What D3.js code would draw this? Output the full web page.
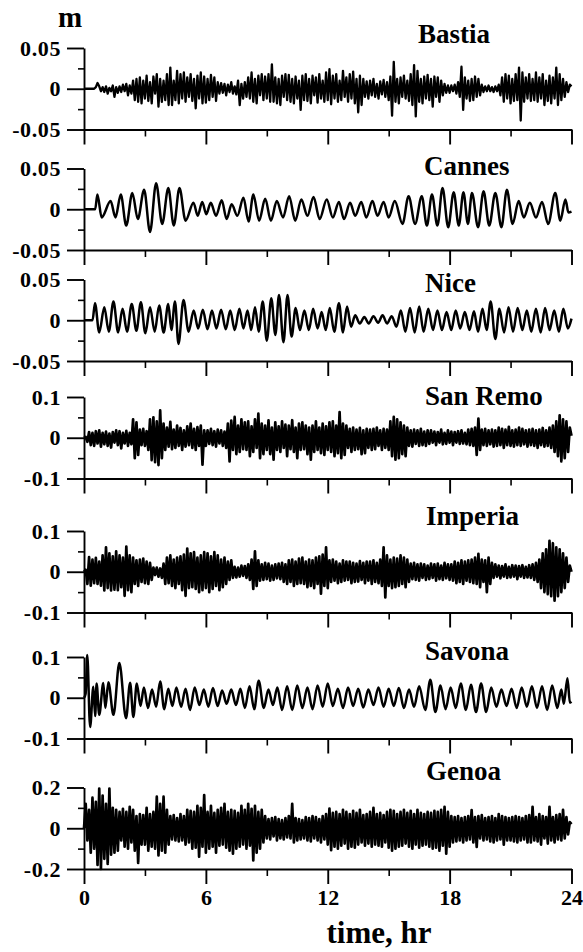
<!DOCTYPE html>
<html>
<head>
<meta charset="utf-8">
<script src="https://cdn.jsdelivr.net/npm/d3@7"></script>
<style>
  body { margin: 0; background: #fff; }
  svg { display: block; }
</style>
</head>
<body>
<svg id="chart" width="583" height="952"></svg>
<script>
// ---- stations and axis settings ----
const stations = ["Bastia", "Cannes", "Nice", "San Remo", "Imperia", "Savona", "Genoa"];
const yLimits = [0.05, 0.05, 0.05, 0.1, 0.1, 0.1, 0.2];
const yTickLabels = [
  ["0.05", "0", "-0.05"], ["0.05", "0", "-0.05"], ["0.05", "0", "-0.05"],
  ["0.1", "0", "-0.1"], ["0.1", "0", "-0.1"], ["0.1", "0", "-0.1"],
  ["0.2", "0", "-0.2"]
];
const timeTicks = [0, 6, 12, 18, 24];
const timeTickLabels = ["0", "6", "12", "18", "24"];
const timeMinorTicks = [3, 9, 15, 21];

// ---- sea level records, mm ----
// Bastia, San Remo, Imperia, Genoa: samples every 5 minutes from 0 to 24 hr
const bastia = [
  0,0,0,0,0,0,0,2,7,3,-3,2,
  -4,3,-6,1,-3,4,-10,2,-5,3,-4,5,
  -3,6,-8,4,-6,10,-14,12,-16,14,-18,10,
  -12,16,-15,8,-18,15,-6,18,-22,12,-16,10,
  -14,18,-20,26,-20,10,-14,22,-18,18,-12,20,
  -16,14,-10,18,-15,12,-24,16,-12,20,-18,15,
  -17,12,-14,17,-10,14,-15,8,-6,7,-5,6,
  -8,5,-4,8,-6,3,-7,10,-20,6,-12,8,
  -10,14,-12,20,-16,12,-18,16,-8,18,-14,15,
  -12,18,-16,30,-16,14,-18,12,-20,16,-10,18,
  -14,17,-16,12,-18,15,-12,10,-26,16,-14,18,
  -15,12,-18,16,-8,14,-17,18,-12,10,-16,20,
  -14,24,-19,16,-12,18,-16,10,-14,22,-10,14,
  -16,18,-12,21,-18,12,-29,16,-20,12,-10,9,
  -12,10,-8,12,-10,6,-12,9,-7,11,-10,8,
  -14,15,-33,33,-16,12,-18,14,-10,16,-12,10,
  -15,18,-20,29,-34,22,-16,12,-18,15,-12,17,
  -14,12,-22,15,-10,14,-16,10,-8,6,-5,4,
  -5,4,-3,5,-6,8,-10,27,-26,14,-12,10,
  -15,12,-14,15,-10,12,-8,5,-4,3,-3,4,
  -3,2,-4,3,-3,5,-8,14,-16,18,-12,16,
  -18,12,-15,18,-14,26,-39,20,-16,14,-12,18,
  -15,12,-14,20,-16,14,-12,18,-20,10,-15,16,
  -18,14,-12,26,-20,18,-14,12,-10,8,-4,5,
  3
];
const sanRemo = [
  0,2,-10,14,-18,12,-20,16,-14,18,-22,12,
  -16,15,-20,10,-24,14,-12,18,-18,16,-26,12,
  -14,17,-20,12,-16,45,-50,38,-42,20,-18,22,
  -20,16,-30,45,-55,50,-60,40,-67,67,-50,35,
  -30,25,-22,39,-28,20,-25,30,-20,24,-30,18,
  -22,28,-18,35,-25,22,-30,26,-20,30,-66,18,
  -20,18,-15,22,-18,16,-22,20,-14,18,-20,15,
  -25,35,-58,42,-30,51,-40,30,-35,45,-28,38,
  -30,40,-45,28,-35,45,-25,59,-50,35,-40,30,
  -30,43,-40,25,-54,38,-30,28,-35,40,-25,32,
  -45,30,-28,43,-35,25,-50,35,-30,38,-28,30,
  -40,25,-54,30,-35,40,-30,25,-38,35,-42,28,
  -30,38,-35,40,-45,30,-38,63,-50,35,-42,30,
  -25,22,-35,25,-30,20,-28,24,-40,18,-38,22,
  -25,20,-30,22,-28,25,-20,18,-30,22,-25,20,
  -30,40,-45,51,-54,45,-50,38,-40,30,-45,25,
  -20,18,-22,20,-15,18,-20,22,-18,15,-20,18,
  -15,18,-12,15,-18,14,-12,20,-16,12,-15,18,
  -12,15,-18,14,-12,16,-15,18,-14,12,-16,20,
  -18,22,-20,25,-42,47,-30,20,-18,22,-20,18,
  -16,20,-22,18,-20,25,-18,22,-25,20,-18,27,
  -20,18,-22,20,-18,25,-20,22,-16,18,-22,20,
  -18,22,-20,18,-25,20,-18,24,-22,18,-20,25,
  -25,30,-35,40,-45,55,-58,45,-50,40,-35,25,
  5
];
const imperia = [
  0,5,-30,36,-34,30,-28,34,-30,25,-34,40,
  -46,60,-40,45,-46,38,-44,50,-45,40,-38,35,
  -59,62,-45,40,-50,35,-30,28,-35,30,-25,32,
  -28,25,-30,22,-20,10,-8,10,-12,8,-15,20,
  -30,35,-28,40,-35,30,-40,35,-30,38,-45,42,
  -59,57,-40,45,-38,48,-42,35,-50,40,-45,48,
  -40,45,-50,38,-42,48,-35,40,-45,30,-38,35,
  -30,25,-20,28,-15,12,-14,10,-12,15,-10,14,
  -15,18,-20,30,-42,50,-35,28,-22,18,-20,22,
  -18,20,-22,15,-20,18,-16,20,-18,22,-25,18,
  -30,28,-25,30,-35,25,-30,32,-28,35,-30,25,
  -38,30,-35,28,-40,35,-30,38,-54,42,-35,60,
  -40,28,-25,30,-22,25,-28,20,-25,28,-22,25,
  -20,25,-28,22,-25,20,-24,26,-20,22,-28,25,
  -22,25,-30,28,-25,22,-28,30,-35,60,-63,40,
  -35,30,-40,35,-38,32,-35,40,-30,35,-38,30,
  -25,20,-18,22,-20,18,-22,20,-15,18,-20,15,
  -18,20,-15,18,-22,20,-18,15,-20,22,-16,18,
  -20,18,-22,25,-28,22,-25,28,-30,25,-22,28,
  -25,30,-28,35,-30,44,-38,30,-25,28,-50,35,
  -30,22,-15,18,-12,15,-16,14,-12,18,-15,12,
  -14,16,-12,15,-18,14,-12,16,-15,12,-14,16,
  -15,18,-20,22,-25,30,-40,45,-50,55,-55,76,
  -60,70,-71,60,-60,55,-50,45,-40,35,-25,15,
  0
];
const genoa = [
  0,120,-60,90,-120,150,-100,130,-180,195,-200,160,
  -150,120,-175,195,-130,100,-120,90,-110,80,-60,95,
  -90,80,-100,105,-70,90,-110,60,-170,70,-80,65,
  -80,100,-110,70,-90,80,-100,155,-133,120,-110,155,
  -120,90,-80,60,-55,65,-60,50,-65,70,-60,60,
  -80,90,-70,85,-100,80,-95,110,-140,100,-90,163,
  -120,80,-100,110,-90,75,-120,90,-85,100,-80,120,
  -95,80,-110,90,-125,85,-100,75,-90,110,-80,90,
  -100,120,-85,95,-158,110,-120,80,-100,90,-70,60,
  -50,45,-55,50,-40,55,-60,45,-50,40,-55,50,
  -45,60,-50,120,-70,50,-60,45,-55,40,-50,55,
  -60,50,-65,60,-50,55,-60,45,-70,60,-55,70,
  -80,97,-108,75,-90,80,-100,70,-85,90,-75,80,
  -100,70,-90,85,-95,75,-80,90,-70,65,-85,70,
  -75,80,-90,100,-80,70,-85,75,-90,65,-70,80,
  -95,90,-110,85,-100,70,-90,80,-85,90,-75,75,
  -90,85,-100,70,-80,90,-95,75,-85,70,-80,80,
  -90,75,-100,85,-95,80,-110,90,-85,105,-125,80,
  -90,60,-70,55,-65,60,-60,50,-70,55,-60,60,
  -55,89,-70,55,-92,60,-50,65,-60,50,-55,55,
  -65,60,-70,50,-60,70,-55,60,-80,55,-60,50,
  -60,55,-65,60,-70,55,-60,50,-55,60,-70,65,
  -70,105,-60,55,-65,70,-80,60,-50,55,-75,105,
  -60,55,-70,65,-55,70,-60,90,-50,55,-30,30,
  20
];

// Cannes, Nice, Savona: turning points [hr, mm] of the smoother records
const cannes = [
  [0,0],[0.55,0],[0.66,18],[0.87,-10],[1.31,10],[1.55,-10],[1.81,18],[2.08,-20],
  [2.38,20],[2.65,-12],[2.96,24],[3.25,-28],[3.55,32],[3.85,-18],[4.15,26],[4.42,-20],
  [4.70,26],[5.00,-14],[5.39,8],[5.60,-8],[5.82,9],[6.02,-6],[6.24,8],[6.50,-8],
  [6.78,11],[7.02,-12],[7.27,6],[7.55,-8],[7.85,14],[8.10,-15],[8.34,18],[8.62,-14],
  [8.92,13],[9.20,-14],[9.49,10],[9.80,-10],[10.10,16],[10.40,-14],[10.70,12],[11.00,-8],
  [11.30,15],[11.60,-12],[11.95,12],[12.25,-10],[12.55,9],[12.80,-12],[13.10,8],[13.35,-8],
  [13.65,9],[13.90,-10],[14.20,10],[14.45,-8],[14.75,9],[15.00,-10],[15.30,10],[15.68,-18],
  [15.98,16],[16.30,-18],[16.63,16],[16.88,-20],[17.13,18],[17.40,-20],[17.65,26],[17.93,-22],
  [18.20,21],[18.45,-20],[18.68,21],[18.90,-18],[19.10,20],[19.40,-22],[19.67,22],[19.95,-20],
  [20.25,20],[20.55,-22],[20.82,24],[21.10,-18],[21.40,10],[21.65,-10],[21.95,8],[22.25,-10],
  [22.55,9],[22.85,-18],[23.20,20],[23.45,-14],[23.70,12],[23.85,-4],[24,-3]
];
const nice = [
  [0,0],[0.42,0],[0.54,21],[0.75,-15],[1.0,16],[1.22,-14],[1.45,23],[1.68,-15],
  [1.9,14],[2.12,-14],[2.35,20],[2.58,-13],[2.8,22],[3.02,-16],[3.25,16],[3.48,-14],
  [3.7,18],[3.92,-15],[4.15,20],[4.3,-12],[4.48,23],[4.65,-29],[4.9,25],[5.15,-14],
  [5.4,12],[5.62,-10],[5.85,13],[6.08,-11],[6.3,12],[6.52,-10],[6.75,13],[6.98,-11],
  [7.2,12],[7.42,-12],[7.65,14],[7.85,-10],[8.05,12],[8.23,-12],[8.42,16],[8.6,-14],
  [8.8,23],[9.0,-25],[9.22,27],[9.42,-18],[9.6,31],[9.82,-27],[10.02,31],[10.22,-20],
  [10.42,15],[10.63,-12],[10.85,12],[11.07,-12],[11.28,14],[11.5,-10],[11.7,10],[11.9,-12],
  [12.1,15],[12.32,-14],[12.55,21],[12.75,-15],[12.95,17],[13.15,-8],[13.35,6],[13.58,-4],
  [13.8,4],[14.02,-4],[14.25,5],[14.48,-3],[14.7,6],[14.92,-4],[15.15,5],[15.38,-8],
  [15.6,12],[15.82,-14],[16.05,15],[16.28,-15],[16.5,17],[16.72,-14],[16.95,14],[17.18,-12],
  [17.4,12],[17.62,-12],[17.85,10],[18.08,-12],[18.3,12],[18.52,-10],[18.75,10],[18.98,-12],
  [19.2,11],[19.4,-14],[19.62,14],[19.82,-12],[20.02,23],[20.25,-23],[20.45,14],[20.68,-15],
  [20.9,16],[21.12,-14],[21.35,15],[21.58,-12],[21.8,12],[22.02,-14],[22.25,14],[22.48,-15],
  [22.7,15],[22.92,-12],[23.15,12],[23.38,-14],[23.6,14],[23.82,-10],[24,2]
];
const savona = [
  [0,0],[0.08,10],[0.16,105],[0.3,-72],[0.46,27],[0.55,-45],[0.62,35],[0.75,-42],
  [0.95,36],[1.05,-25],[1.2,38],[1.45,-42],[1.74,85],[2.07,-50],[2.27,37],[2.43,-47],
  [2.6,35],[2.78,-20],[2.95,25],[3.15,-25],[3.35,20],[3.55,-22],[3.75,40],[3.95,-28],
  [4.15,22],[4.35,-20],[4.55,25],[4.78,-22],[5.0,22],[5.22,-30],[5.45,25],[5.68,-18],
  [5.9,20],[6.12,-22],[6.35,24],[6.58,-20],[6.8,18],[7.02,-15],[7.25,20],[7.48,-18],
  [7.7,22],[7.92,-25],[8.15,28],[8.38,-28],[8.6,42],[8.85,-25],[9.08,20],[9.3,-18],
  [9.52,25],[9.75,-30],[10.0,28],[10.25,-30],[10.5,30],[10.75,-25],[11.0,25],[11.25,-28],
  [11.5,30],[11.75,-22],[12.0,35],[12.25,-20],[12.5,22],[12.75,-25],[13.0,25],[13.25,-20],
  [13.5,22],[13.75,-24],[14.0,20],[14.25,-18],[14.5,25],[14.75,-22],[15.0,22],[15.25,-20],
  [15.5,24],[15.75,-25],[16.0,20],[16.25,-22],[16.5,28],[16.8,-30],[17.05,44],[17.3,-35],
  [17.55,30],[17.8,-28],[18.05,25],[18.3,-25],[18.55,35],[18.8,-30],[19.05,32],[19.3,-35],
  [19.55,35],[19.8,-35],[20.05,25],[20.3,-22],[20.55,20],[20.8,-20],[21.05,22],[21.3,-25],
  [21.55,25],[21.8,-22],[22.05,28],[22.3,-25],[22.55,28],[22.8,-30],[23.05,30],[23.3,-25],
  [23.5,20],[23.62,-15],[23.8,48],[23.92,-12],[24,-10]
];

// ---- build [hours, metres] point lists ----
function sampled(values) {
  const step = 24 / (values.length - 1);
  return values.map((v, i) => [i * step, v / 1000]);
}
function turning(points) {
  return points.map(p => [p[0], p[1] / 1000]);
}
const records = [
  { pts: sampled(bastia), curve: d3.curveLinear, width: 2.3 },
  { pts: turning(cannes), curve: d3.curveMonotoneX, width: 2.5 },
  { pts: turning(nice), curve: d3.curveMonotoneX, width: 2.5 },
  { pts: sampled(sanRemo), curve: d3.curveLinear, width: 2.7 },
  { pts: sampled(imperia), curve: d3.curveLinear, width: 2.7 },
  { pts: turning(savona), curve: d3.curveMonotoneX, width: 2.5 },
  { pts: sampled(genoa), curve: d3.curveLinear, width: 2.7 }
];

// ---- layout ----
const FONT = "'Liberation Serif', 'Times New Roman', Times, serif";
const svg = d3.select("#chart");
const x = d3.scaleLinear().domain([0, 24]).range([84, 571.5]);
const panelTop = [48, 168.5, 279.5, 397, 531, 657, 787.5];
const panelH = 81.5;
const labelX = [418, 424, 425, 425, 426, 425, 426];
const labelY = [43, 175, 292, 405, 525, 660, 780];

function styleAxis(g, width) {
  g.selectAll("path.domain").attr("stroke", "#000").attr("stroke-width", width);
  g.selectAll(".tick line").attr("stroke", "#000").attr("stroke-width", width);
  g.attr("font-family", FONT).attr("font-size", 22).attr("font-weight", "bold");
  g.selectAll("text").attr("fill", "#000");
}

stations.forEach((name, k) => {
  const lim = yLimits[k];
  const y = d3.scaleLinear().domain([-lim, lim]).range([panelTop[k] + panelH, panelTop[k]]);
  const g = svg.append("g").attr("class", "panel");
  const last = k === stations.length - 1;

  // time axis (bottom)
  const xMajor = d3.axisBottom(x).tickValues(timeTicks).tickSize(15).tickSizeOuter(0)
    .tickPadding(5)
    .tickFormat((d, i) => last ? timeTickLabels[i] : "");
  const gx = g.append("g").attr("transform", `translate(0,${y(-lim)})`).call(xMajor);
  styleAxis(gx, 1.9);
  const xMinor = d3.axisBottom(x).tickValues(timeMinorTicks).tickSize(7).tickSizeOuter(0).tickFormat("");
  const gxm = g.append("g").attr("transform", `translate(0,${y(-lim)})`).call(xMinor);
  gxm.select("path.domain").remove();
  styleAxis(gxm, 1.6);

  // level axis (left)
  const yMajor = d3.axisLeft(y).tickValues([lim, 0, -lim]).tickSize(17).tickSizeOuter(0)
    .tickPadding(6)
    .tickFormat((d, i) => yTickLabels[k][i]);
  const gy = g.append("g").attr("transform", `translate(${x(0)},0)`).call(yMajor);
  styleAxis(gy, 1.9);
  gy.selectAll("text").attr("letter-spacing", 0.6);
  const yMinor = d3.axisLeft(y).tickValues([lim / 2, -lim / 2]).tickSize(6).tickSizeOuter(0).tickFormat("");
  const gym = g.append("g").attr("transform", `translate(${x(0)},0)`).call(yMinor);
  gym.select("path.domain").remove();
  styleAxis(gym, 1.6);

  // record
  const line = d3.line().x(d => x(d[0])).y(d => y(d[1])).curve(records[k].curve);
  g.append("path").datum(records[k].pts)
    .attr("d", line)
    .attr("fill", "none")
    .attr("stroke", "#000")
    .attr("stroke-width", records[k].width)
    .attr("stroke-linejoin", "round");

  // station name
  g.append("text")
    .attr("x", labelX[k]).attr("y", labelY[k])
    .attr("font-family", FONT).attr("font-size", 27).attr("font-weight", "bold")
    .text(name);
});

// unit and axis title
svg.append("text").attr("x", 70).attr("y", 27).attr("text-anchor", "middle")
  .attr("font-family", FONT).attr("font-size", 29).attr("font-weight", "bold").text("m");
svg.append("text").attr("x", 379).attr("y", 943).attr("text-anchor", "middle")
  .attr("font-family", FONT).attr("font-size", 31).attr("font-weight", "bold").text("time, hr");
</script>
</body>
</html>
